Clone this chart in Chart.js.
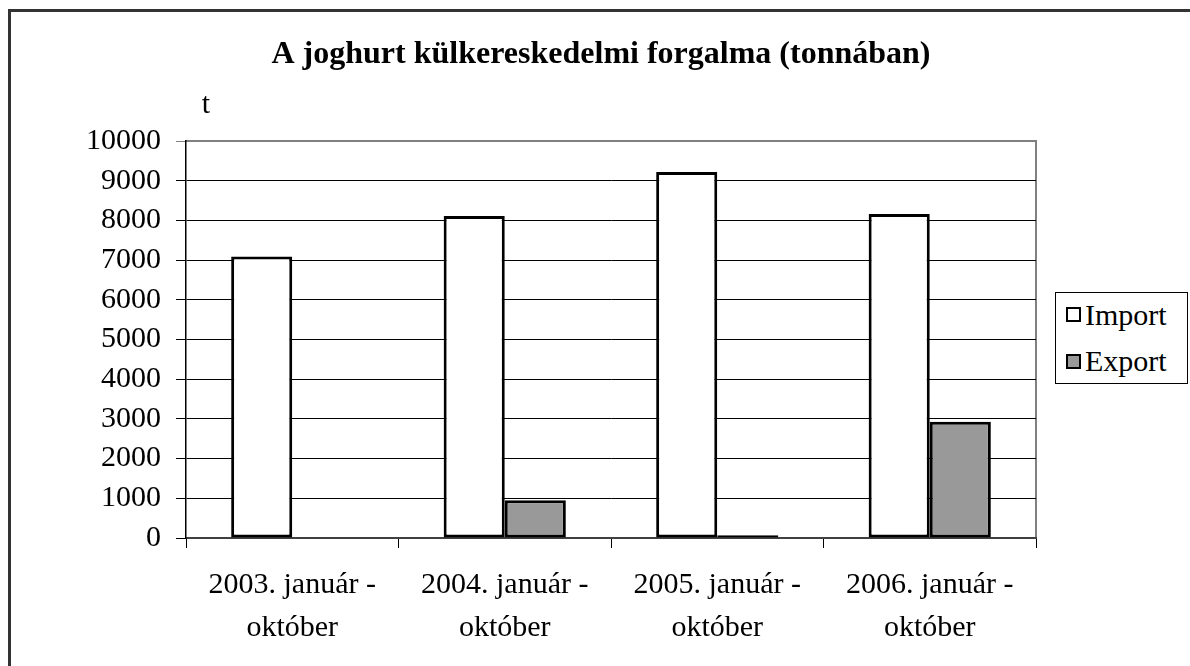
<!DOCTYPE html>
<html>
<head>
<meta charset="utf-8">
<script src="https://cdn.jsdelivr.net/npm/chart.js@4.4.0/dist/chart.umd.min.js"></script>
<style>
    html, body { margin: 0; padding: 0; background: #fff; overflow: hidden; }
    #wrap { position: relative; width: 1190px; height: 666px; }
    #legend {
        position: absolute; left: 1055px; top: 292px; width: 131px; height: 90px;
        border: 1px solid #000; background: #fff;
        font-family: 'Liberation Serif', 'Times New Roman', serif; font-size: 30px; color: #000;
    }
    #legend .box {
        position: absolute; left: 10px; width: 11px; height: 11px; border: 2px solid #000;
    }
    #legend .text { position: absolute; left: 29px; height: 30px; line-height: 30px; white-space: nowrap; }
</style>
</head>
<body>
<div id="wrap">
    <canvas id="chart" width="1190" height="666"></canvas>
    <div id="legend"></div>
</div>
<script>
const chartTitle = 'A joghurt külkereskedelmi forgalma (tonnában)';
const unitLabel = 't';
const categories = [
    ['2003. január -', 'október'],
    ['2004. január -', 'október'],
    ['2005. január -', 'október'],
    ['2006. január -', 'október']
];
const importValues = [7090, 8110, 9220, 8160];
const exportValues = [0, 950, 70, 2930];
const yTicks = [0, 1000, 2000, 3000, 4000, 5000, 6000, 7000, 8000, 9000, 10000];

const serif = "'Liberation Serif', 'Times New Roman', serif";

// keret, cím és mértékegység
const decorPlugin = {
    id: 'decor',
    beforeDraw(chart) {
        const ctx = chart.ctx;
        const a = chart.chartArea;
        ctx.save();
        ctx.strokeStyle = '#333';
        ctx.lineWidth = 3;
        ctx.strokeRect(9.5, 10.5, 1400, 900);
        ctx.strokeStyle = '#808080';
        ctx.lineWidth = 2;
        ctx.beginPath();
        ctx.moveTo(a.left, a.top);
        ctx.lineTo(a.right, a.top);
        ctx.lineTo(a.right, a.bottom);
        ctx.stroke();
        ctx.restore();
    },
    afterDraw(chart) {
        const ctx = chart.ctx;
        const a = chart.chartArea;
        ctx.save();
        ctx.fillStyle = '#000';
        ctx.textAlign = 'center';
        ctx.textBaseline = 'middle';
        ctx.font = 'bold 32px ' + serif;
        ctx.fillText(chartTitle, 601, 55);
        ctx.font = '30px ' + serif;
        ctx.fillText(unitLabel, a.left + 20, a.top - 36);
        ctx.restore();
    }
};

function initChart() {
    const ctx = document.getElementById('chart').getContext('2d');

    const chart = new Chart(ctx, {
        type: 'bar',
        data: {
            labels: categories,
            datasets: [{
                label: 'Import',
                data: importValues,
                backgroundColor: '#ffffff',
                borderColor: '#000000',
                borderWidth: 3,
                borderSkipped: false
            }, {
                label: 'Export',
                data: exportValues,
                backgroundColor: '#999999',
                borderColor: '#000000',
                borderWidth: 3,
                borderSkipped: false
            }]
        },
        options: {
            responsive: false,
            animation: false,
            categoryPercentage: 0.575,
            barPercentage: 1.0,
            layout: { padding: { left: 0, top: 141, right: 154, bottom: 0 } },
            plugins: {
                legend: { display: false },
                title: { display: false },
                tooltip: { enabled: false }
            },
            scales: {
                x: {
                    afterFit(scale) { scale.height = 128; },
                    grid: {
                        offset: true,
                        drawOnChartArea: false,
                        drawTicks: true,
                        tickLength: 10,
                        color: '#000'
                    },
                    border: { color: '#404040', width: 2 },
                    ticks: {
                        color: '#000',
                        padding: 16,
                        maxRotation: 0,
                        autoSkip: false,
                        font: { family: serif, size: 30, lineHeight: 1.42 }
                    }
                },
                y: {
                    min: 0,
                    max: 10000,
                    afterFit(scale) { scale.width = 186; },
                    afterBuildTicks(scale) { scale.ticks = yTicks.map(v => ({ value: v })); },
                    grid: {
                        color: c => (c.tick && c.tick.value === 10000) ? '#808080' : '#000',
                        lineWidth: 1,
                        tickLength: 10
                    },
                    border: { color: '#000', width: 1.5 },
                    ticks: {
                        color: '#000',
                        padding: 15,
                        font: { family: serif, size: 30 },
                        callback: v => String(v)
                    }
                }
            }
        },
        plugins: [decorPlugin]
    });

    // jelmagyarázat
    const legend = document.getElementById('legend');
    chart.data.datasets.forEach((ds, i) => {
        const box = document.createElement('div');
        box.className = 'box';
        box.style.top = (14 + i * 47) + 'px';
        box.style.background = ds.backgroundColor;
        const text = document.createElement('div');
        text.className = 'text';
        text.style.top = (7 + i * 46) + 'px';
        text.textContent = ds.label;
        legend.appendChild(box);
        legend.appendChild(text);
    });
}

document.addEventListener('DOMContentLoaded', initChart);
</script>
</body>
</html>
